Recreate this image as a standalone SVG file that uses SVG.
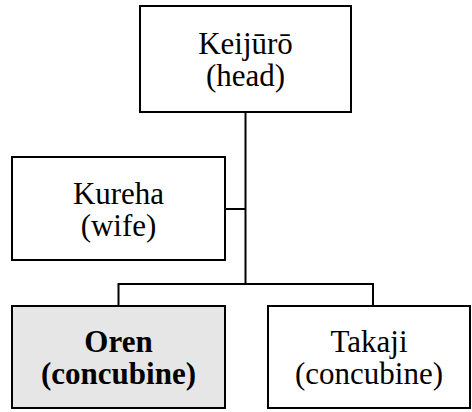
<svg xmlns="http://www.w3.org/2000/svg" width="472" height="412" viewBox="0 0 472 412">
<style>
.box{fill:#ffffff;stroke:#000000;stroke-width:2}
.hl{fill:#e6e6e6}
.t{font-family:"Liberation Serif","Times New Roman",serif;font-size:31px;fill:#000000;text-anchor:middle}
.b{font-weight:bold}
.c{fill:none;stroke:#000000;stroke-width:2}
</style>
<rect width="472" height="412" fill="#ffffff"/>
<g id="connectors">
<path class="c" d="M245.5 112 V284"/>
<path class="c" d="M225 209 H245.5"/>
<path class="c" d="M118.5 306 V284 H373 V306"/>
</g>
<g id="keijuro">
<rect class="box" x="140" y="6" width="211" height="106"/>
<text class="t" x="245.5" y="54">Keijūrō</text>
<text class="t" x="245.5" y="86">(head)</text>
</g>
<g id="kureha">
<rect class="box" x="12" y="157" width="213" height="103"/>
<text class="t" x="118.5" y="204">Kureha</text>
<text class="t" x="118.5" y="236">(wife)</text>
</g>
<g id="oren">
<rect class="box hl" x="12" y="306" width="213" height="102"/>
<text class="t b" x="118.5" y="352">Oren</text>
<text class="t b" x="118.5" y="384">(concubine)</text>
</g>
<g id="takaji">
<rect class="box" x="268" y="306" width="202" height="102"/>
<text class="t" x="369" y="352">Takaji</text>
<text class="t" x="369" y="384">(concubine)</text>
</g>
</svg>
